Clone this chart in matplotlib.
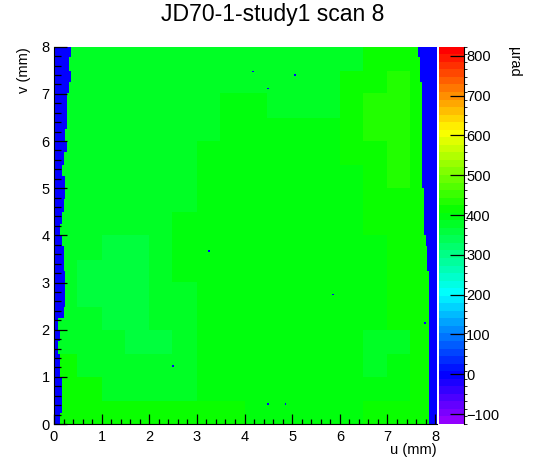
import colorsys
import numpy as np
import matplotlib
matplotlib.use("Agg")
import matplotlib.pyplot as plt
from matplotlib.colors import ListedColormap, BoundaryNorm

plt.rcParams['font.family'] = ['Liberation Sans', 'DejaVu Sans']

# coarse map of the deflection (urad), 0.5 mm cells, rows from v=8 down to v=0
A, B, C, D, E = 358, 378, 396, 415, 435
coarse = [
    [B, B, B, B, B, B, B, B, B, B, B, B, B, D, D, D],
    [B, B, B, B, B, B, B, B, B, B, B, B, D, D, E, D],
    [B, B, B, B, B, B, B, C, C, B, B, B, D, E, E, D],
    [B, B, B, B, B, B, B, C, C, C, C, C, D, E, E, D],
    [B, B, B, B, B, B, C, C, C, C, C, C, D, D, E, D],
    [B, B, B, B, B, B, C, C, C, C, C, C, C, D, E, D],
    [B, B, B, B, B, B, C, C, C, C, C, C, C, D, D, D],
    [B, B, B, B, B, C, C, C, C, C, C, C, C, D, D, D],
    [B, B, A, A, B, C, C, C, C, C, C, C, C, C, D, D],
    [B, A, A, A, B, C, C, C, C, C, C, C, C, C, D, D],
    [B, A, A, A, B, B, C, C, C, C, C, C, C, C, D, D],
    [B, B, A, A, B, B, C, C, C, C, C, C, C, C, D, D],
    [B, B, B, A, A, B, C, C, C, C, C, C, C, B, B, D],
    [D, B, B, B, B, B, C, C, C, C, C, C, C, B, C, D],
    [D, D, B, B, B, B, C, C, C, C, C, C, C, C, C, D],
    [D, D, D, D, D, D, D, D, C, C, C, C, C, D, D, D],
]

# edge of the sensor per 0.25 mm band in v (from v=0 upwards), in mm
left_edge = [0.13, 0.16, 0.18, 0.16, 0.14, 0.12, 0.09, 0.11,
             0.10, 0.20, 0.23, 0.23, 0.23, 0.22, 0.19, 0.15,
             0.13, 0.17, 0.20, 0.23, 0.23, 0.17, 0.22, 0.27,
             0.24, 0.27, 0.28, 0.30, 0.34, 0.37, 0.34, 0.38]
right_edge = [7.90, 7.90, 7.90, 7.90, 7.90, 7.90, 7.90, 7.90,
              7.90, 7.90, 7.89, 7.88, 7.88, 7.86, 7.83, 7.79,
              7.78, 7.77, 7.76, 7.76, 7.74, 7.71, 7.71, 7.71,
              7.71, 7.71, 7.71, 7.71, 7.74, 7.70, 7.67, 7.64]
outside_value = 0

# isolated dead pixels
dots_u = [4.17, 5.04, 4.52, 3.26, 2.49, 5.87, 4.48, 4.85, 7.76]
dots_v = [7.47, 7.36, 7.08, 3.65, 1.22, 2.73, 0.40, 0.40, 2.15]

zmin, zmax = -125, 823
cbar_ticks = [-100, 0, 100, 200, 300, 400, 500, 600, 700, 800]

# histogram binning
nu, nv, bw = 201, 200, 0.04
uc = (np.arange(nu) + 0.5) * bw
vc = (np.arange(nv) + 0.5) * bw
coarse_arr = np.array(coarse, dtype=float)[::-1]  # row 0 = bottom
ci = np.minimum((uc / 0.5).astype(int), 15)
ri = np.minimum((vc / 0.5).astype(int), 15)
Z = coarse_arr[np.ix_(ri, ci)]
bi = np.minimum((vc / 0.25).astype(int), 31)
L = np.array(left_edge)[bi][:, None]
R = np.array(right_edge)[bi][:, None]
Z[(uc[None, :] < L) | (uc[None, :] >= R)] = outside_value
for du, dv in zip(dots_u, dots_v):
    Z[int(dv / bw), int(du / bw)] = outside_value

# old ROOT "pretty" palette: 50 colours, hue 280 -> 0
ncol = 50
cols = [colorsys.hls_to_rgb((280 - (i + 1) * 280 / ncol) / 360, 0.5, 1.0) for i in range(ncol)]
cmap = ListedColormap(cols)
levels = np.linspace(zmin, zmax, ncol + 1)
norm = BoundaryNorm(levels, ncol)

W, H = 546, 472
fig = plt.figure(figsize=(W / 100, H / 100), dpi=100)
ax = fig.add_axes([54 / W, 1 - 424 / H, 383 / W, 377.3 / H])
im = ax.imshow(Z, origin='lower', extent=(0, nu * bw, 0, nv * bw),
               cmap=cmap, norm=norm, interpolation='nearest', aspect='auto')
ax.set_xlim(0, nu * bw)
ax.set_ylim(0, 8)
ax.set_xticks(range(9))
ax.set_yticks(range(9))
ax.set_xticks(np.arange(0, 8.05, 0.2), minor=True)
ax.set_yticks(np.arange(0, 8.01, 0.2), minor=True)
ax.tick_params(axis='x', which='major', direction='in', length=7.2, width=0.9, labelsize=10.5, pad=4)
ax.tick_params(axis='x', which='minor', direction='in', length=3.6, width=0.9)
ax.tick_params(axis='y', which='major', direction='in', length=9.4, width=0.9, labelsize=10.5, pad=3)
ax.tick_params(axis='y', which='minor', direction='in', length=5, width=0.9)
for s in ['top', 'right']:
    ax.spines[s].set_visible(False)

cax = fig.add_axes([439 / W, 1 - 424 / H, 25 / W, 377.3 / H])
cb = fig.colorbar(im, cax=cax, ticks=cbar_ticks)
cb.outline.set_visible(False)
cax.spines['right'].set_visible(True)
cax.spines['right'].set_color('black')
cax.tick_params(direction='in', length=10, width=0.9, labelsize=10.5, pad=1.5, color='black')

fig.text(0.5, 1 - 15 / H, 'JD70-1-study1 scan 8', ha='center', va='center', fontsize=16.6)
fig.text(437 / W, 1 - 450 / H, 'u (mm)', ha='right', va='center', fontsize=10.5)
fig.text(24 / W, 1 - 47 / H, 'v (mm)', ha='center', va='top', rotation=90, fontsize=10.5)
fig.text(514 / W, 1 - 47 / H, 'µrad', ha='center', va='top', rotation=270, fontsize=10.5)

fig.savefig('out.png', dpi=100)
